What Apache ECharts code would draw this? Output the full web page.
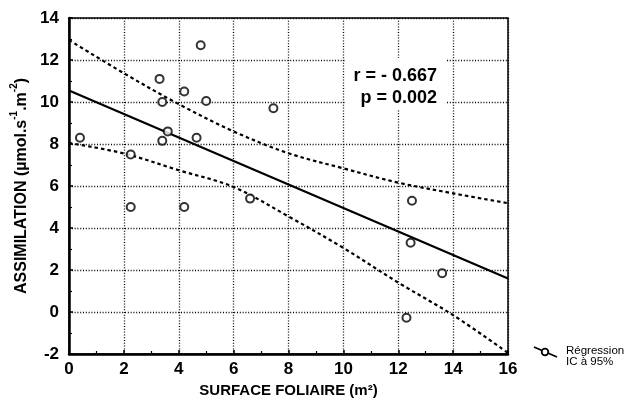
<!DOCTYPE html>
<html>
<head>
<meta charset="utf-8">
<script src="https://cdn.jsdelivr.net/npm/echarts@6/dist/echarts.min.js"></script>
<style>html,body{margin:0;padding:0;background:#fff;}#c{width:631px;height:409px;}</style>
</head>
<body>
<div id="c"></div>
<script>
// Observed points
const surfaceFoliaire = [4.8, 3.3, 4.2, 3.4, 5.0, 7.45, 0.4, 3.6, 3.4, 4.65, 2.25, 6.6, 2.25, 4.2, 12.5, 12.45, 13.6, 12.3];
const assimilation    = [12.7, 11.1, 10.5, 10.0, 10.05, 9.7, 8.3, 8.6, 8.15, 8.3, 7.5, 5.4, 5.0, 5.0, 5.3, 3.3, 1.85, -0.27];
// Regression line endpoints
const fitX = [0, 16];
const fitY = [10.55, 1.6];
// 95% confidence band
const ciX     = [0, 2, 4, 6, 8, 10, 12, 14, 16];
const ciUpper = [12.95, 11.37, 9.9, 8.6, 7.56, 6.84, 6.16, 5.65, 5.18];
const ciLower = [8.05, 7.55, 6.75, 5.95, 4.55, 3.05, 1.4, -0.15, -1.95];
// Axis ticks
const xTicks = [0, 2, 4, 6, 8, 10, 12, 14, 16];
const yTicks = [-2, 0, 2, 4, 6, 8, 10, 12, 14];
const statR = 'r = - 0.667';
const statP = 'p = 0.002';

const zip = (a, b) => a.map((v, i) => [v, b[i]]);
const FONT = '"Liberation Sans", Arial, sans-serif';

const chart = echarts.init(document.getElementById('c'), null, {renderer: 'canvas'});
const gridLine = {show: true, lineStyle: {color: '#000', width: 1.3, type: [1, 1.8]}};
chart.setOption({
  animation: false,
  backgroundColor: '#fff',
  grid: {left: 69, top: 18, right: 123, bottom: 55, show: true, borderColor: '#000', borderWidth: 1.5, backgroundColor: 'transparent'},
  xAxis: {
    type: 'value', min: xTicks[0], max: xTicks[xTicks.length - 1], interval: 2,
    axisLine: {show: true, onZero: false, lineStyle: {color: '#000', width: 2.5}},
    axisTick: {show: true, inside: true, length: 4, lineStyle: {color: '#000', width: 1.5}},
    minorTick: {show: true, splitNumber: 2, length: 3, lineStyle: {color: '#000', width: 1.2}},
    splitLine: gridLine,
    axisLabel: {color: '#000', fontFamily: FONT, fontWeight: 'bold', fontSize: 17, margin: 7},
    name: 'SURFACE FOLIAIRE (m²)', nameLocation: 'middle', nameGap: 27,
    nameTextStyle: {color: '#000', fontFamily: FONT, fontWeight: 'bold', fontSize: 15}
  },
  yAxis: {
    type: 'value', min: yTicks[0], max: yTicks[yTicks.length - 1], interval: 2,
    axisLine: {show: true, onZero: false, lineStyle: {color: '#000', width: 2.5}},
    axisTick: {show: true, inside: true, length: 4, lineStyle: {color: '#000', width: 1.5}},
    minorTick: {show: true, splitNumber: 2, length: 3, lineStyle: {color: '#000', width: 1.2}},
    splitLine: gridLine,
    axisLabel: {color: '#000', fontFamily: FONT, fontWeight: 'bold', fontSize: 17, margin: 10},
    name: '{t|ASSIMILATION (µmol.s}{s|-1}{t|.m}{s|-2}{t|)}', nameLocation: 'middle', nameGap: 34, nameRotate: 90,
    nameTextStyle: {
      color: '#000', fontFamily: FONT, fontWeight: 'bold', fontSize: 16,
      rich: {
        t: {color: '#000', fontFamily: FONT, fontWeight: 'bold', fontSize: 16, lineHeight: 20, verticalAlign: 'bottom'},
        s: {color: '#000', fontFamily: FONT, fontWeight: 'bold', fontSize: 10, lineHeight: 20, verticalAlign: 'top'}
      }
    }
  },
  series: [
    {type: 'line', name: 'IC sup', data: zip(ciX, ciUpper), smooth: 0.35, symbol: 'none',
     lineStyle: {color: '#000', width: 2.2, type: [3.5, 3]}, z: 2, silent: true},
    {type: 'line', name: 'IC inf', data: zip(ciX, ciLower), smooth: 0.35, symbol: 'none',
     lineStyle: {color: '#000', width: 2.2, type: [3.5, 3]}, z: 2, silent: true},
    {type: 'line', name: 'Régression', data: zip(fitX, fitY), symbol: 'none',
     lineStyle: {color: '#000', width: 2.2}, z: 3, silent: true},
    {type: 'scatter', name: 'Points', data: zip(surfaceFoliaire, assimilation), symbol: 'circle', symbolSize: 8,
     itemStyle: {color: '#fff', borderColor: '#000', borderWidth: 2}, z: 4, silent: true}
  ],
  graphic: [
    {type: 'rect', shape: {x: 345, y: 58, width: 102, height: 52}, style: {fill: '#fff'}, z: 10},
    {type: 'text', x: 437, y: 76, style: {text: statR, fill: '#000', font: 'bold 18px ' + FONT, textAlign: 'right', textVerticalAlign: 'middle'}, z: 11},
    {type: 'text', x: 437, y: 98, style: {text: statP, fill: '#000', font: 'bold 18px ' + FONT, textAlign: 'right', textVerticalAlign: 'middle'}, z: 11},
    {type: 'line', shape: {x1: 534, y1: 347, x2: 557, y2: 357}, style: {stroke: '#000', lineWidth: 1.8}, z: 11},
    {type: 'circle', shape: {cx: 545, cy: 352, r: 3.3}, style: {fill: '#fff', stroke: '#000', lineWidth: 1.8}, z: 12},
    {type: 'text', x: 566, y: 351, style: {text: 'Régression', fill: '#000', font: '11.5px ' + FONT, textAlign: 'left', textVerticalAlign: 'middle'}, z: 11},
    {type: 'text', x: 566, y: 362, style: {text: 'IC à 95%', fill: '#000', font: '11.5px ' + FONT, textAlign: 'left', textVerticalAlign: 'middle'}, z: 11}
  ]
});
</script>
</body>
</html>
